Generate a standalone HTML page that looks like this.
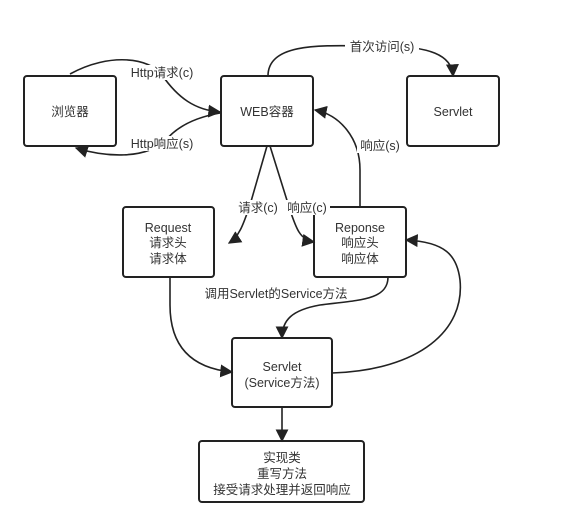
<!DOCTYPE html>
<html><head><meta charset="utf-8"><style>
html,body{margin:0;padding:0;background:#fff;}
svg{display:block;}
text{font-family:"Liberation Sans","Noto Sans CJK SC",sans-serif;font-size:12.5px;fill:#333;text-anchor:middle;}
.b{fill:#fff;stroke:#222;stroke-width:2;}
.l{fill:none;stroke:#222;stroke-width:1.6;}
</style></head><body>
<svg width="563" height="528" viewBox="0 0 563 528">
<defs><marker id="a" viewBox="0 0 10 10" refX="9" refY="5" markerWidth="13" markerHeight="13" orient="auto" markerUnits="userSpaceOnUse"><path d="M0,0 L10,5 L0,10 Z" fill="#222"/></marker></defs>
<rect class="b" x="24" y="76" width="92" height="70" rx="3"/>
<rect class="b" x="221" y="76" width="92" height="70" rx="3"/>
<rect class="b" x="407" y="76" width="92" height="70" rx="3"/>
<rect class="b" x="123" y="207" width="91" height="70" rx="3"/>
<rect class="b" x="314" y="207" width="92" height="70" rx="3"/>
<rect class="b" x="232" y="338" width="100" height="69" rx="3"/>
<rect class="b" x="199" y="441" width="165" height="61" rx="3"/>

<path class="l" marker-end="url(#a)" d="M70,74 C110,52 150,58 162,75 C178,98 195,110 220,112"/>
<path class="l" marker-end="url(#a)" d="M220,113 C192,118 176,128 166,140 C145,160 105,157 76,148"/>
<path class="l" marker-end="url(#a)" d="M268,76 C268,40 330,46 380,46 C430,46 452,55 453,76"/>
<path class="l" marker-end="url(#a)" d="M267,146 L250,205 C244,222 240,236 229,243"/>
<path class="l" marker-end="url(#a)" d="M270,146 L290,210 C296,228 300,240 314,242"/>
<path class="l" marker-end="url(#a)" d="M360,207 L360,170 C360,138 340,115 315,110"/>
<path class="l" marker-end="url(#a)" d="M170,277 L170,305 C170,345 190,368 232,372"/>
<path class="l" marker-end="url(#a)" d="M388,277 C388,300 360,300 320,305 C292,310 282,320 282,338"/>
<path class="l" marker-end="url(#a)" d="M332,373 C420,370 465,330 460,280 C457,255 445,242 406,240"/>
<path class="l" marker-end="url(#a)" d="M282,407 L282,441"/>

<rect x="130" y="65" width="64" height="15" fill="#fff"/><text x="162" y="77">Http请求(c)</text>
<rect x="130" y="136" width="64" height="15" fill="#fff"/><text x="162" y="148">Http响应(s)</text>
<rect x="345" y="39" width="74" height="15" fill="#fff"/><text x="382" y="51">首次访问(s)</text>
<rect x="233" y="200" width="50" height="15" fill="#fff"/><text x="258" y="212">请求(c)</text>
<rect x="284" y="200" width="46" height="15" fill="#fff"/><text x="307" y="212">响应(c)</text>
<rect x="357" y="138" width="46" height="15" fill="#fff"/><text x="380" y="150">响应(s)</text>
<text x="276" y="298">调用Servlet的Service方法</text>

<text x="70" y="116">浏览器</text>
<text x="267" y="116">WEB容器</text>
<text x="453" y="116">Servlet</text>
<text x="168" y="232">Request</text><text x="168" y="247">请求头</text><text x="168" y="263">请求体</text>
<text x="360" y="232">Reponse</text><text x="360" y="247">响应头</text><text x="360" y="263">响应体</text>
<text x="282" y="371">Servlet</text><text x="282" y="387">(Service方法)</text>
<text x="282" y="462">实现类</text><text x="282" y="478">重写方法</text><text x="282" y="494">接受请求处理并返回响应</text>
</svg>
</body></html>
